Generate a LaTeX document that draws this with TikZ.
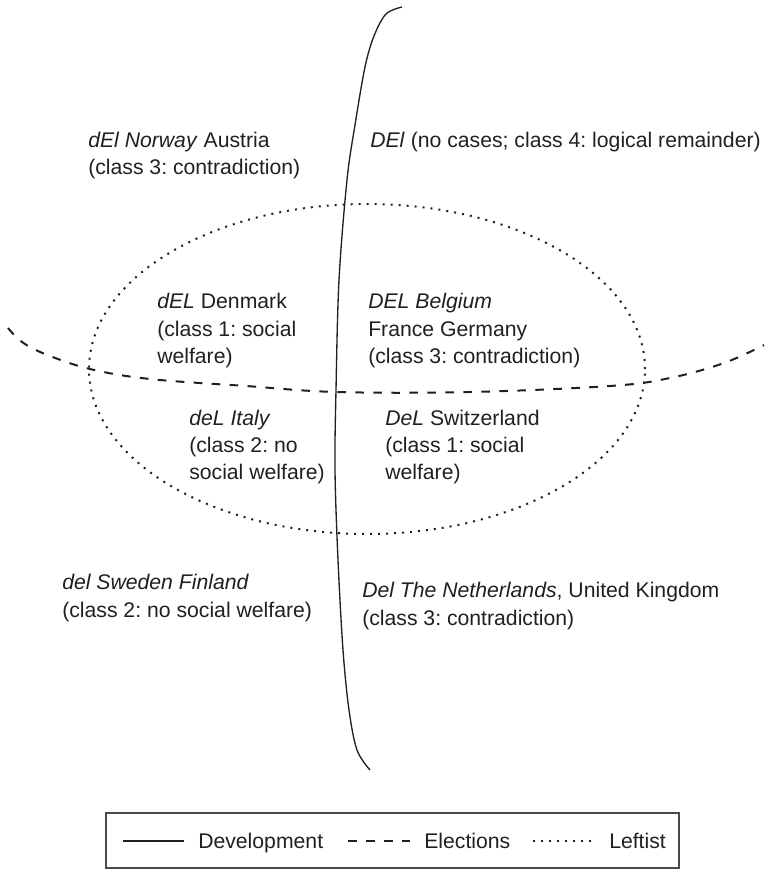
\documentclass[tikz,border=0pt]{standalone}
\usepackage{fontspec}
\setmainfont{Liberation Sans}
\frenchspacing
\definecolor{ink}{HTML}{231F20}
\definecolor{frame}{HTML}{4A4A4A}
\begin{document}
\begin{tikzpicture}[x=0.75pt,y=-0.75pt,
  lbl/.style={anchor=base west, inner sep=0pt, text=ink,
              font=\fontsize{15.9}{20}\selectfont},
  devline/.style={draw=ink, line width=1pt},
  elecline/.style={draw=ink, line width=1.5pt, dash pattern=on 6.5pt off 7pt},
  leftline/.style={draw=ink, line width=1.5pt, dash pattern=on 1.5pt off 4.5pt},
  keydev/.style={draw=ink, line width=2pt},
  keyelec/.style={draw=ink, line width=1.8pt, dash pattern=on 6.5pt off 7pt},
  keyleft/.style={draw=ink, line width=1.6pt, dash pattern=on 1.5pt off 4.5pt},
]
\useasboundingbox (0,0) rectangle (768,869);

% Leftist: dotted ellipse
\draw[leftline] (367,369) ellipse [x radius=208.5pt, y radius=123.75pt];

% Elections: dashed arc
\draw[elecline] plot[smooth, tension=0.6] coordinates
  {(8,328) (22,342) (45,354) (90,369) (150,379) (246,386) (337,392)
   (470,392) (610,386) (670,378) (724,363) (764,345)};

% Development: solid arc
\draw[devline] plot[smooth, tension=0.55] coordinates
  {(402,7) (386,14) (374,36) (365,67) (355,125) (347,180)
   (339,280) (336,390) (335,470) (338,560) (343,650) (349,710)
   (357,750) (370,770)};

% Region labels
\node[lbl] (dEl1) at (88,147) {\textit{dEl Norway} Austria};
\node[lbl] (dEl2) at (88,174) {(class 3: contradiction)};

\node[lbl] (DEl1) at (370,147) {\textit{DEl} (no cases; class 4: logical remainder)};

\node[lbl] (dEL1) at (157,308) {\textit{dEL} Denmark};
\node[lbl] (dEL2) at (157,336) {(class 1: social};
\node[lbl] (dEL3) at (157,363) {welfare)};

\node[lbl] (DEL1) at (368,308) {\textit{DEL Belgium}};
\node[lbl] (DEL2) at (368,336) {France Germany};
\node[lbl] (DEL3) at (368,363) {(class 3: contradiction)};

\node[lbl] (deL1) at (189,425) {\textit{deL Italy}};
\node[lbl] (deL2) at (189,452) {(class 2: no};
\node[lbl] (deL3) at (189,479) {social welfare)};

\node[lbl] (DeL1) at (385,425) {\textit{DeL} Switzerland};
\node[lbl] (DeL2) at (385,452) {(class 1: social};
\node[lbl] (DeL3) at (385,479) {welfare)};

\node[lbl] (del1) at (62,589) {\textit{del Sweden Finland}};
\node[lbl] (del2) at (62,617) {(class 2: no social welfare)};

\node[lbl] (Del1) at (362,597) {\textit{Del The Netherlands}, United Kingdom};
\node[lbl] (Del2) at (362,625) {(class 3: contradiction)};

% Legend
\draw[frame, line width=1pt] (106,813) rectangle (679,868);
\coordinate (kd0) at (123,841); \coordinate (kd1) at (184,841);
\coordinate (ke0) at (348,841); \coordinate (ke1) at (410,841);
\coordinate (kl0) at (533,841); \coordinate (kl1) at (592,841);
\draw[keydev] (kd0) -- (kd1);
\draw[keyelec] (ke0) -- (ke1);
\draw[keyleft] (kl0) -- (kl1);
\node[lbl] (kdev) at (198,848) {Development};
\node[lbl] (kele) at (424,848) {Elections};
\node[lbl] (klef) at (609,848) {Leftist};
\end{tikzpicture}
\end{document}
